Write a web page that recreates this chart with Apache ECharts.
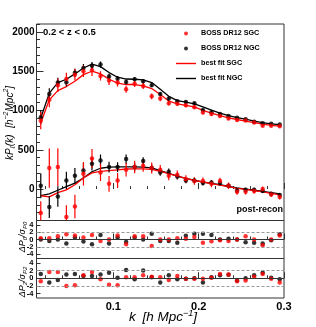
<!DOCTYPE html>
<html><head><meta charset="utf-8">
<script src="https://cdn.jsdelivr.net/npm/echarts@6/dist/echarts.min.js"></script>
<style>html,body{margin:0;padding:0;background:#fff}#c{width:316px;height:327px}</style>
</head><body><div id="c"></div>
<script>
// ---- data ----
const k = [0.015,0.025,0.035,0.045,0.055,0.065,0.075,0.085,0.095,0.105,0.115,0.125,0.135,0.145,0.155,0.165,0.175,0.185,0.195,0.205,0.215,0.225,0.235,0.245,0.255,0.265,0.275,0.285,0.295];
const p0NGC = [915,1211,1355,1360,1480,1540,1570,1584,1431,1405,1363,1398,1372,1321,1211,1151,1118,1109,1093,1005,978,956,931,906,889,855,838,830,821];
const p0NGCerr = [90,70,60,55,52,50,45,40,36,33,30,28,26,24,22,20,18,17,16,15,14,13,12,12,11,11,10,10,10];
const p0SGC = [870,1135,1320,1400,1455,1500,1510,1440,1380,1355,1270,1340,1312,1180,1151,1093,1084,1067,1042,973,955,930,897,880,872,846,804,804,800];
const p0SGCerr = [110,95,85,80,75,75,70,60,55,50,45,42,40,36,33,30,28,26,24,22,21,20,19,18,17,16,15,15,14];
const p2NGC = [42,-229,-94,110,169,237,322,364,280,280,381,280,356,267,211,220,160,109,109,76,84,76,42,-18,-9,-9,-25,-60,-76];
const p2NGCerr = [160,140,130,110,100,95,85,75,68,62,58,54,50,46,42,40,38,36,34,32,30,29,28,27,26,25,24,23,22];
const p2SGC = [-305,267,280,-356,-221,194,389,211,67,109,245,280,296,267,245,169,182,127,102,102,67,102,42,-34,-34,-25,0,-68,-102];
const p2SGCerr = [150,250,240,150,150,150,120,110,100,95,85,80,75,70,62,58,54,50,48,46,44,42,40,38,36,35,34,33,32];
const fitP0NGC = [905,1220,1355,1397,1465,1540,1590,1558,1482,1423,1400,1397,1390,1355,1270,1180,1125,1105,1085,1045,1005,965,935,910,890,865,845,830,820];
const fitP0SGC = [840,1135,1253,1304,1372,1456,1499,1465,1397,1347,1330,1330,1312,1279,1202,1120,1085,1065,1045,1000,965,935,905,885,865,845,825,810,800];
const fitP2NGC = [-85,-60,-15,30,75,140,220,265,278,281,282,282,280,270,235,200,165,135,110,90,72,55,35,15,0,-15,-30,-45,-60];
const fitP2SGC = [-85,-100,-45,-10,55,140,205,225,235,245,255,258,258,250,225,195,165,135,110,90,70,50,30,10,-5,-20,-35,-55,-75];
const resP0NGC = [0,-0.4,0,-1.1,0.55,-0.55,-1.3,1.25,-1.1,0.55,-0.7,0.55,0,1.6,-0.4,-0.4,-0.9,1.0,1.6,1.6,1.25,0,0.2,0,-0.75,-0.9,-1.1,-0.2,1.45];
const resP0SGC = [0.35,0.35,0.9,1.45,1.1,0.55,1.25,-0.4,0,1.1,-1.3,0.9,0.9,-1.8,0,0,0.35,0.2,0.7,-0.9,-0.5,-0.2,-0.4,0,0.9,0,-1.6,0,1.1];
const resP2NGC = [1.1,-1.1,-0.45,0.95,1.1,0.6,0.6,0.95,1.45,0.1,2.1,-0.25,2.0,0.25,-1.1,0.8,-0.25,-0.1,0,-1.1,0.25,0.8,0.9,-0.6,0,0.8,1.45,0.1,-0.25];
const resP2SGC = [-0.8,1.6,1.6,-2.0,-1.8,0.8,1.6,-0.25,-1.65,-1.8,0.25,0.25,0.8,0.4,0.25,-0.45,0.6,-0.1,-0.1,-0.1,0.1,1.1,0.95,-0.8,-0.6,0.4,1.1,-0.1,-1.1];
const xMajorTicks = [0.1,0.2,0.3];
const xMinorTicks = [0.02,0.04,0.06,0.08,0.12,0.14,0.16,0.18,0.22,0.24,0.26,0.28];
const yMajorTicks = [0,500,1000,1500,2000];
const yMinorTicks = [-300,-200,-100,100,200,300,400,600,700,800,900,1100,1200,1300,1400,1600,1700,1800,1900,2100];
const resTicksA = [-4,0,4];
const resTicksB = [-2,2];
const legendNames = ['BOSS DR12 SGC','BOSS DR12 NGC','best fit SGC','best fit NGC'];

// ---- chart ----
const F = 'Liberation Sans';
const RED = '#ff0000', BLK = '#000000';
const X0 = 0.01, X1 = 0.3, Y0 = -400, Y1 = 2100;
const chart = echarts.init(document.getElementById('c'));
const plain = v => String(v);

function xAxes(gi) {
  const base = {gridIndex: gi, type: 'value', position: 'bottom', offset: 0, min: X0, max: X1, splitLine: {show: false}, axisLine: {show: false}};
  return [
    Object.assign({}, base, {
      axisTick: {show: true, inside: true, length: 6, customValues: xMajorTicks, lineStyle: {color: '#333'}},
      axisLabel: {show: gi === 2, customValues: xMajorTicks, formatter: plain, hideOverlap: false, margin: 3, fontFamily: F, fontWeight: 'bold', fontSize: 11, color: '#000'}
    }),
    Object.assign({}, base, {
      axisTick: {show: true, inside: true, length: 3, customValues: xMinorTicks, lineStyle: {color: '#333'}},
      axisLabel: {show: false, customValues: xMinorTicks}
    })
  ];
}
const xAxis = [].concat(xAxes(0), xAxes(1), xAxes(2));
function resAxis(gi, lim, vals) {
  return {gridIndex: gi, type: 'value', position: 'left', offset: 0, min: -lim, max: lim, splitLine: {show: false}, axisLine: {show: false},
    axisTick: {inside: true, length: 4, customValues: vals, lineStyle: {color: '#333'}},
    axisLabel: {customValues: vals, formatter: plain, interval: 0, hideOverlap: false,
      margin: 3, fontFamily: F, fontWeight: 'bold', fontSize: 7.5, color: '#000'}};
}
const yAxis = [
  {gridIndex: 0, type: 'value', position: 'left', offset: 0, min: Y0, max: Y1, splitLine: {show: false}, axisLine: {show: false},
   axisTick: {inside: true, length: 7, customValues: yMajorTicks, lineStyle: {color: '#333'}},
   axisLabel: {customValues: yMajorTicks, formatter: plain, hideOverlap: false, margin: 2, fontFamily: F, fontWeight: 'bold', fontSize: 10, color: '#000'}},
  {gridIndex: 0, type: 'value', position: 'left', offset: 0, min: Y0, max: Y1, splitLine: {show: false}, axisLine: {show: false},
   axisTick: {inside: true, length: 3.5, customValues: yMinorTicks, lineStyle: {color: '#333'}},
   axisLabel: {show: false, customValues: yMinorTicks}},
  resAxis(1, 5.2, resTicksA),
  resAxis(1, 5.2, resTicksB),
  resAxis(2, 5.1, resTicksA),
  resAxis(2, 5.1, resTicksB)
];

function errSeries(name, vals, errs, color) {
  return {
    type: 'custom', name: name, xAxisIndex: 0, yAxisIndex: 0, clip: true, z: 3,
    data: k.map((x, i) => [x, Math.max(Y0, vals[i] - errs[i]), Math.min(Y1, vals[i] + errs[i])]),
    encode: {x: 0, y: [1, 2]},
    renderItem: function (params, api) {
      const a = api.coord([api.value(0), api.value(1)]);
      const b = api.coord([api.value(0), api.value(2)]);
      return {type: 'line', shape: {x1: a[0], y1: a[1], x2: b[0], y2: b[1]}, style: {stroke: color, lineWidth: 1.2}};
    }
  };
}
function pts(name, vals, color, xi, yi) {
  return {type: 'scatter', name: name, xAxisIndex: xi, yAxisIndex: yi, symbol: 'circle', symbolSize: 4.5,
          itemStyle: {color: color}, z: 4, data: k.map((x, i) => [x, vals[i]])};
}
function fit(name, vals, color) {
  return {type: 'line', name: name, xAxisIndex: 0, yAxisIndex: 0, symbol: 'none', showSymbol: false, smooth: false, z: 2,
          lineStyle: {color: color, width: 1.3}, itemStyle: {color: color}, data: k.map((x, i) => [x, vals[i]])};
}
function refLines() {
  return {silent: true, symbol: ['none', 'none'], label: {show: false}, animation: false,
    data: [
      {yAxis: 0, lineStyle: {type: 'solid', color: '#333', width: 1}},
      {yAxis: 2, lineStyle: {type: [3, 2], color: '#999', width: 1}},
      {yAxis: -2, lineStyle: {type: [3, 2], color: '#999', width: 1}}
    ]};
}
const r0n = pts('res P0 NGC', resP0NGC, BLK, 2, 2); r0n.markLine = refLines(); r0n.z = 3;
const r2n = pts('res P2 NGC', resP2NGC, BLK, 4, 4); r2n.markLine = refLines(); r2n.z = 3;

const series = [
  fit('best fit NGC', fitP0NGC, BLK),
  fit('best fit SGC', fitP0SGC, RED),
  fit('best fit NGC', fitP2NGC, BLK),
  fit('best fit SGC', fitP2SGC, RED),
  errSeries('err P0 NGC', p0NGC, p0NGCerr, BLK),
  errSeries('err P2 NGC', p2NGC, p2NGCerr, BLK),
  errSeries('err P0 SGC', p0SGC, p0SGCerr, RED),
  errSeries('err P2 SGC', p2SGC, p2SGCerr, RED),
  pts('BOSS DR12 NGC', p0NGC, BLK, 0, 0),
  pts('BOSS DR12 NGC', p2NGC, BLK, 0, 0),
  pts('BOSS DR12 SGC', p0SGC, RED, 0, 0),
  pts('BOSS DR12 SGC', p2SGC, RED, 0, 0),
  r0n, pts('res P0 SGC', resP0SGC, RED, 2, 2),
  r2n, pts('res P2 SGC', resP2SGC, RED, 4, 4)
];

const it = {fontFamily: F, fontStyle: 'italic', fontSize: 10, color: '#000'};
const lineIcon = 'path://M0,0L20,0L20,1.4L0,1.4Z';
const option = {
  animation: false,
  backgroundColor: '#fff',
  grid: [
    {left: 36.5, top: 24, width: 247.5, height: 196.5, show: true, borderColor: '#333', borderWidth: 1, backgroundColor: 'transparent'},
    {left: 36.5, top: 220.5, width: 247.5, height: 38, show: true, borderColor: '#333', borderWidth: 1, backgroundColor: 'transparent'},
    {left: 36.5, top: 258.5, width: 247.5, height: 39.5, show: true, borderColor: '#333', borderWidth: 1, backgroundColor: 'transparent'}
  ],
  xAxis: xAxis,
  yAxis: yAxis,
  legend: {
    left: 176, top: 29, orient: 'vertical', itemWidth: 20, itemHeight: 4, itemGap: 6, padding: 0,
    selectedMode: false,
    textStyle: {fontFamily: F, fontWeight: 'bold', fontSize: 7.2, lineHeight: 9, color: '#000'},
    data: [
      {name: legendNames[0], icon: 'circle'},
      {name: legendNames[1], icon: 'circle'},
      {name: legendNames[2], icon: lineIcon},
      {name: legendNames[3], icon: lineIcon}
    ]
  },
  graphic: [
    {type: 'text', x: 43, y: 32.5, style: {text: '0.2 < z < 0.5', fontFamily: F, fontWeight: 'bold', fontSize: 9.5, fill: '#000', align: 'left', verticalAlign: 'middle'}},
    {type: 'text', x: 283, y: 210, style: {text: 'post-recon', fontFamily: F, fontWeight: 'bold', fontSize: 9, fill: '#000', align: 'right', verticalAlign: 'middle'}},
    {type: 'text', x: 10, y: 123, rotation: Math.PI / 2, style: {
      text: '{i|kP}{s|ℓ}{i|(k)}  {i|[h}{p|−2}{i|Mpc}{p|2}{i|]}', align: 'center', verticalAlign: 'middle',
      rich: {i: Object.assign({}, it, {lineHeight: 14}), s: Object.assign({}, it, {fontSize: 7, verticalAlign: 'bottom', lineHeight: 14}), p: Object.assign({}, it, {fontSize: 7, verticalAlign: 'top', lineHeight: 14})}}},
    {type: 'text', x: 22, y: 237, rotation: Math.PI / 2, style: {
      text: '{i|ΔP}{s|0}{i|/σ}{s|P0}', align: 'center', verticalAlign: 'middle',
      rich: {i: Object.assign({}, it, {fontSize: 9, lineHeight: 12}), s: Object.assign({}, it, {fontSize: 6, verticalAlign: 'bottom', lineHeight: 12})}}},
    {type: 'text', x: 22, y: 282, rotation: Math.PI / 2, style: {
      text: '{i|ΔP}{s|2}{i|/σ}{s|P2}', align: 'center', verticalAlign: 'middle',
      rich: {i: Object.assign({}, it, {fontSize: 9, lineHeight: 12}), s: Object.assign({}, it, {fontSize: 6, verticalAlign: 'bottom', lineHeight: 12})}}},
    {type: 'text', x: 163, y: 317.5, style: {
      text: '{i|k}  {i|[h Mpc}{p|−1}{i|]}', align: 'center', verticalAlign: 'middle',
      rich: {i: Object.assign({}, it, {fontSize: 13.5, lineHeight: 17}), p: Object.assign({}, it, {fontSize: 9, verticalAlign: 'top', lineHeight: 17})}}}
  ],
  series: series
};
chart.setOption(option);
</script>
</body></html>
